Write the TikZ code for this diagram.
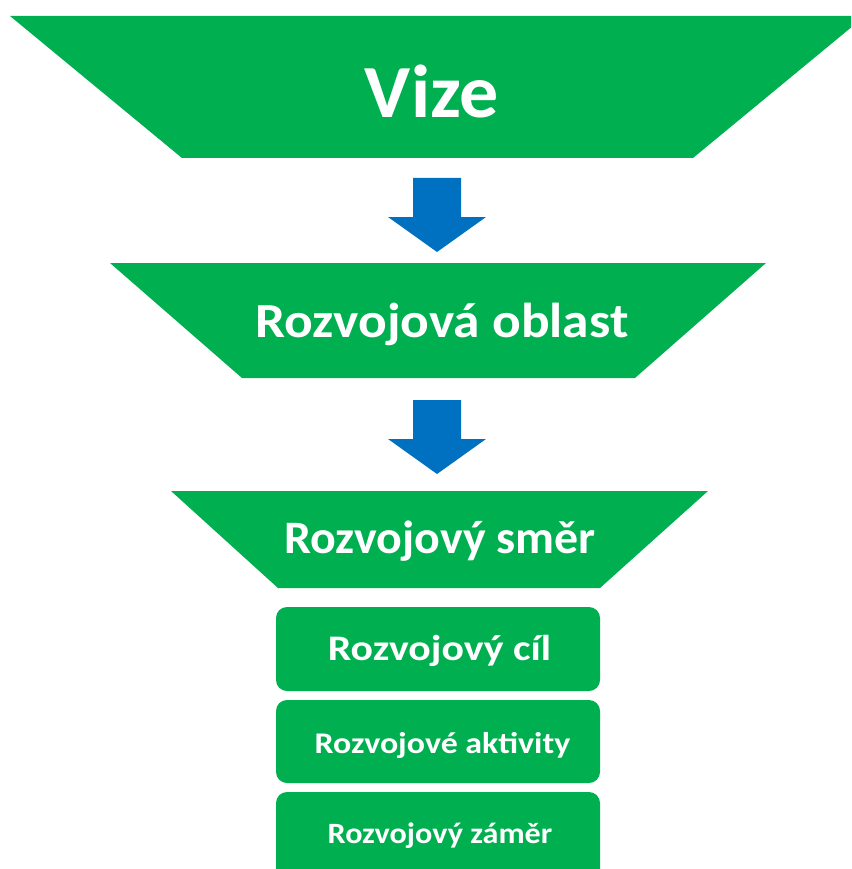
\documentclass[tikz,border=0pt]{standalone}
\usepackage{fontspec}
\setmainfont{Carlito}
\definecolor{grn}{HTML}{00B050}
\definecolor{blu}{HTML}{0070C0}
\begin{document}
\begin{tikzpicture}[x=1pt,y=-1pt,
  lbl/.style={text=white,inner sep=0pt,anchor=base},
  blockarrow/.style={fill=blu},
  box/.style={fill=grn,rounded corners=11pt}]
\useasboundingbox (0,0) rectangle (851,869);
\clip (0,0) rectangle (851,869);
% funnel levels
\fill[grn] (10,16) -- (865,16) -- (693,158) -- (182,158) -- cycle;
\fill[grn] (110,263) -- (766,263) -- (635,378) -- (242,378) -- cycle;
\fill[grn] (171,491) -- (708,491) -- (600,588) -- (278,588) -- cycle;
% arrows
\fill[blockarrow] (413,178) -- (461,178) -- (461,217) -- (486,217) -- (437,252) -- (388,217) -- (413,217) -- cycle;
\fill[blockarrow] (413,400) -- (461,400) -- (461,439) -- (486,439) -- (437,474) -- (388,439) -- (413,439) -- cycle;
% boxes
\fill[box] (276,607) rectangle (600,691);
\fill[box] (276,700) rectangle (600,783);
\fill[box] (276,792) rectangle (600,900);
% labels
\node[lbl,xscale=1.04,font=\bfseries\fontsize{75}{80}\selectfont] (vize) at (432,118) {Vize};
\node[lbl,xscale=1.09,font=\bfseries\fontsize{49}{56}\selectfont] (oblast) at (442,337) {Rozvojová oblast};
\node[lbl,xscale=1.03,font=\bfseries\fontsize{46.5}{52}\selectfont] (smer) at (440,553) {Rozvojový směr};
\node[lbl,xscale=1.16,font=\bfseries\fontsize{36}{42}\selectfont] (cil) at (439.5,660) {Rozvojový cíl};
\node[lbl,xscale=1.13,font=\bfseries\fontsize{30}{36}\selectfont] (akt) at (442.5,753) {Rozvojové aktivity};
\node[lbl,xscale=1.09,font=\bfseries\fontsize{29.5}{34}\selectfont] (zam) at (440,843) {Rozvojový záměr};
\end{tikzpicture}
\end{document}
